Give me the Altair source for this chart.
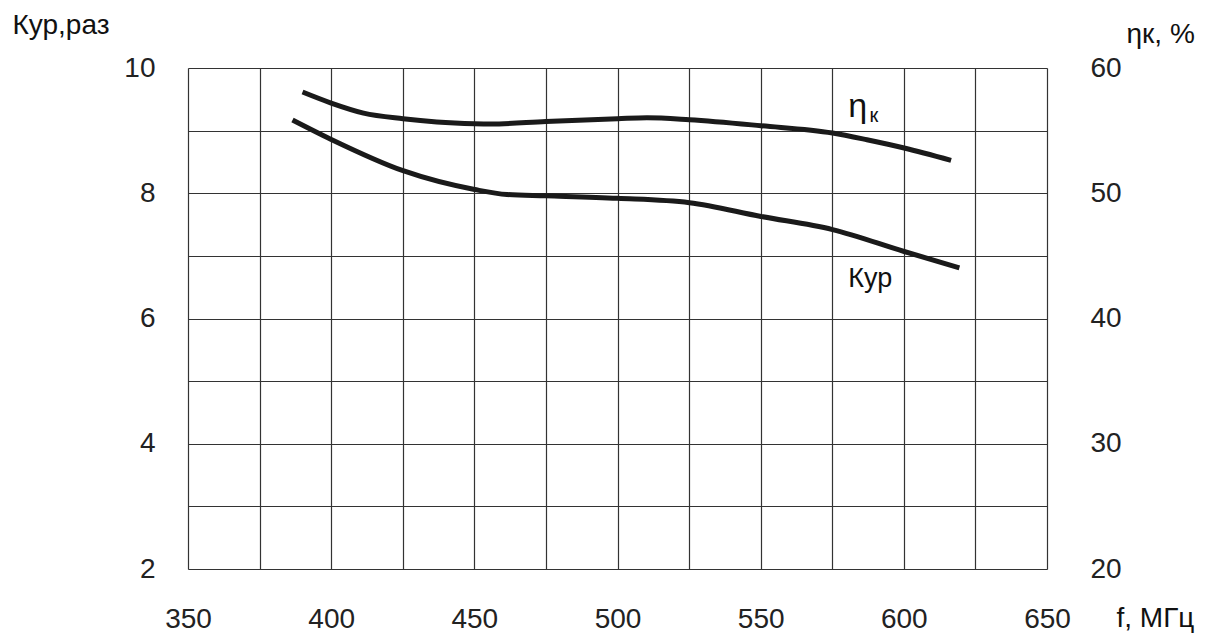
import altair as alt
import pandas as pd

kyp_f = [386.5, 400.0, 425.1, 450.1, 461.4, 475.0, 500.0, 525.1, 550.1, 575.1, 600.1, 619.4]
kyp_v = [9.17, 8.86, 8.36, 8.06, 7.98, 7.96, 7.92, 7.85, 7.63, 7.42, 7.07, 6.81]

eta_f = [390.0, 400.0, 411.3, 425.1, 436.9, 450.1, 455.6, 475.0, 500.0, 510.3, 525.1, 550.1, 575.1, 587.1, 600.1, 616.5]
eta_v = [58.08, 57.2, 56.4, 55.95, 55.69, 55.55, 55.53, 55.73, 55.95, 56.03, 55.87, 55.39, 54.81, 54.27, 53.61, 52.62]

x_ticks = [350, 375, 400, 425, 450, 475, 500, 525, 550, 575, 600, 625, 650]
y_left_ticks = [2, 3, 4, 5, 6, 7, 8, 9, 10]
y_right_ticks = [20, 30, 40, 50, 60]

FONT = "Liberation Sans"
FS = 28
W, H = 859, 501

kyp_df = pd.DataFrame({"f": kyp_f, "v": kyp_v})
eta_df = pd.DataFrame({"f": eta_f, "v": eta_v})

xscale = alt.Scale(domain=[350, 650], nice=False, zero=False)
xaxis = alt.Axis(values=x_ticks, format="d", labelExpr="datum.value % 50 == 0 ? datum.label : ''",
                 grid=True, gridColor="#333333", gridWidth=1.2, gridOpacity=1,
                 labelFlush=False, labelOverlap=False,
                 domain=False, ticks=False, labelFont=FONT, labelFontSize=FS, labelColor="#222222",
                 labelPadding=36, title="f, МГц", titleFont=FONT, titleFontSize=FS,
                 titleFontWeight="normal", titleColor="#111111", titleAnchor="start",
                 titleAlign="left", titleBaseline="middle", titleX=928, titleY=49)

left_axis = alt.Axis(values=y_left_ticks, format="d", labelExpr="datum.value % 2 == 0 ? datum.label : ''",
                     grid=True, gridColor="#333333", gridWidth=1.2, gridOpacity=1,
                     labelFlush=False, labelOverlap=False,
                     domain=False, ticks=False, labelFont=FONT, labelFontSize=FS, labelColor="#222222",
                     labelPadding=33, title="Кур,раз", titleFont=FONT, titleFontSize=FS,
                     titleFontWeight="normal", titleColor="#111111", titleAngle=0,
                     titleAlign="left", titleBaseline="middle", titleX=-176, titleY=-43)

right_axis = alt.Axis(orient="right", values=y_right_ticks, format="d", grid=False,
                      labelFlush=False, labelOverlap=False,
                      domain=False, ticks=False, labelFont=FONT, labelFontSize=FS, labelColor="#222222",
                      labelPadding=43, title="ηк, %", titleFont=FONT, titleFontSize=FS,
                      titleFontWeight="normal", titleColor="#111111", titleAngle=0,
                      titleAlign="left", titleBaseline="middle", titleX=79, titleY=-34)

kyp_line = alt.Chart(kyp_df).mark_line(color="#1a1a1a", strokeWidth=5, interpolate="monotone").encode(
    x=alt.X("f:Q", scale=xscale, axis=xaxis),
    y=alt.Y("v:Q", scale=alt.Scale(domain=[2, 10], nice=False, zero=False), axis=left_axis),
)
kyp_lab = alt.Chart(pd.DataFrame({"f": [580.6], "v": [6.5], "t": ["Кур"]})).mark_text(
    font=FONT, fontSize=27, align="left", baseline="alphabetic", color="#111111").encode(
    x="f:Q", y="v:Q", text="t:N")

eta_line = alt.Chart(eta_df).mark_line(color="#1a1a1a", strokeWidth=5, interpolate="monotone").encode(
    x=alt.X("f:Q", scale=xscale),
    y=alt.Y("v:Q", scale=alt.Scale(domain=[20, 60], nice=False, zero=False), axis=right_axis),
)
eta_lab1 = alt.Chart(pd.DataFrame({"f": [580.6], "v": [56.11], "t": ["η"]})).mark_text(
    font=FONT, fontSize=34, align="left", baseline="alphabetic", color="#111111").encode(
    x="f:Q", y="v:Q", text="t:N")
eta_lab2 = alt.Chart(pd.DataFrame({"f": [588.0], "v": [55.71], "t": ["к"]})).mark_text(
    font=FONT, fontSize=20, align="left", baseline="alphabetic", color="#111111").encode(
    x="f:Q", y="v:Q", text="t:N")

left = alt.layer(kyp_line, kyp_lab)
right = alt.layer(eta_line, eta_lab1, eta_lab2)

chart = alt.layer(left, right).resolve_scale(y="independent").properties(
    width=W, height=H,
    autosize=alt.AutoSizeParams(type="none"),
    padding={"left": 188, "top": 68, "right": 168, "bottom": 66},
).configure_view(stroke=None).configure(background="white")

chart.save("out.html", embed_options={"renderer": "svg", "actions": False})
